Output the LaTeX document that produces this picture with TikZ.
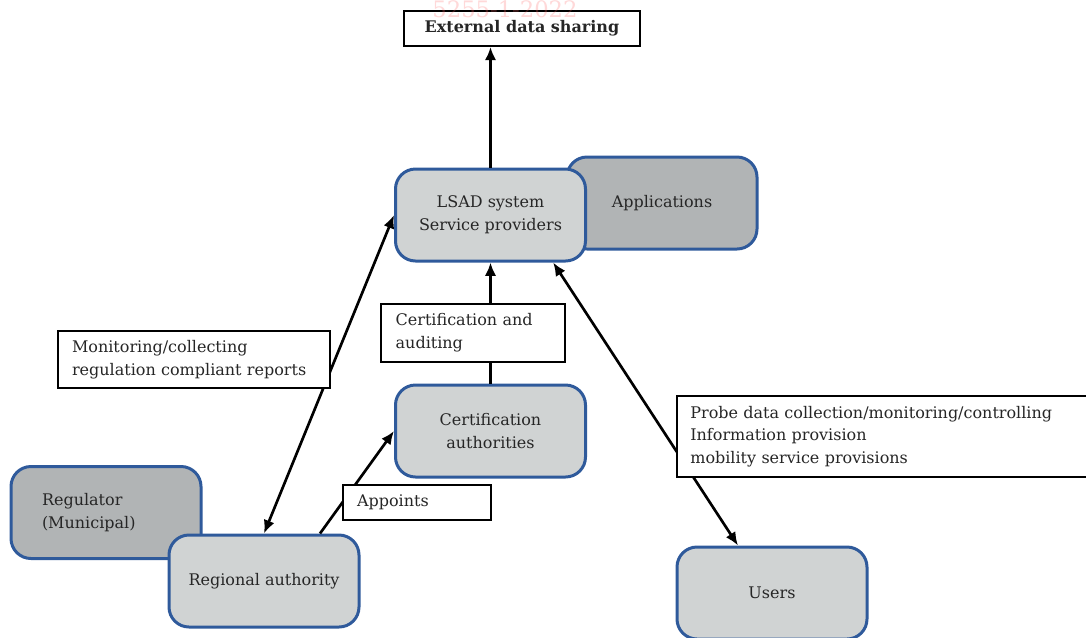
\documentclass[tikz,border=0pt]{standalone}
\usepackage{fontspec}
\setmainfont{DejaVu Serif}
\usetikzlibrary{positioning, arrows.meta}
\definecolor{boxblue}{RGB}{47,90,155}
\definecolor{lightfill}{RGB}{208,211,211}
\definecolor{darkfill}{RGB}{177,180,181}
\tikzset{
x=0.75pt, y=-0.75pt, % coordinates are given in pixels, y going down
every node/.style={font=\fontsize{12}{17}\selectfont, text=black!85},
actor/.style={rectangle, rounded corners=15pt, draw=boxblue, line width=2.25pt, fill=lightfill, minimum width=142.5pt, minimum height=69pt, align=center}, % the rounded gray boxes
darkactor/.style={actor, fill=darkfill}, % the darker ones lying behind
note/.style={rectangle, draw=black, line width=1.5pt, fill=white, align=left}, % white label boxes
link/.style={line width=2pt, -{Latex[length=10pt,width=8.5pt]}}, % one-way arrows
both link/.style={line width=2pt, {Latex[length=10pt,width=8.5pt]}-{Latex[length=10pt,width=8.5pt]}}, % two-way arrows
}

\begin{document}
\begin{tikzpicture}
\useasboundingbox (0,0) rectangle (1086,637);

\node[darkactor] at (662,203) (apps) {Applications};
\node[actor] at (490.5,215) (lsad) {LSAD system\\Service providers};
\node[darkactor, align=left, text width=96pt, inner xsep=23pt] at (106,512.5) (regulator) {Regulator\\(Municipal)};
\node[actor] at (264,581) (regional) {Regional authority};
\node[actor] at (490.5,431) (certauth) {Certification\\authorities};
\node[actor] at (772,593) (users) {Users};
\node[note, font=\fontsize{12}{17}\bfseries, minimum width=177pt, minimum height=26pt, align=center] at (522,28.5) (ext) {External data sharing};

\draw[link] (lsad.north) -- (lsad.north |- ext.south);
\draw[link] (certauth.north) -- (lsad.south);
\draw[both link] (regional.north) -- (lsad.west);
\draw[link] ([xshift=42pt]regional.north) -- (certauth.west);
\draw[both link] ([xshift=47pt]lsad.south) -- ([xshift=-25.5pt]users.north);

\node[note, text width=116pt, inner xsep=11pt, minimum height=43.5pt] at (473,333) (audit) {Certification and\\auditing};
\node[note, text width=183pt, inner xsep=10.5pt, minimum height=43pt] at (194,359.5) (monitor) {Monitoring/collecting\\regulation compliant reports};
\node[note, text width=90pt, inner xsep=10.5pt, minimum height=26pt] at (417,502.5) (appoints) {Appoints};
\node[note, text width=295pt, inner xsep=10pt, minimum height=61pt] at (887,436.5) (probe) {Probe data collection/monitoring/controlling\\Information provision\\mobility service provisions};

\node[font=\fontsize{17}{17}\selectfont, text=red!60, opacity=0.25] at (505,9) (mark) {5255-1-2022};

\end{tikzpicture}
\end{document}
